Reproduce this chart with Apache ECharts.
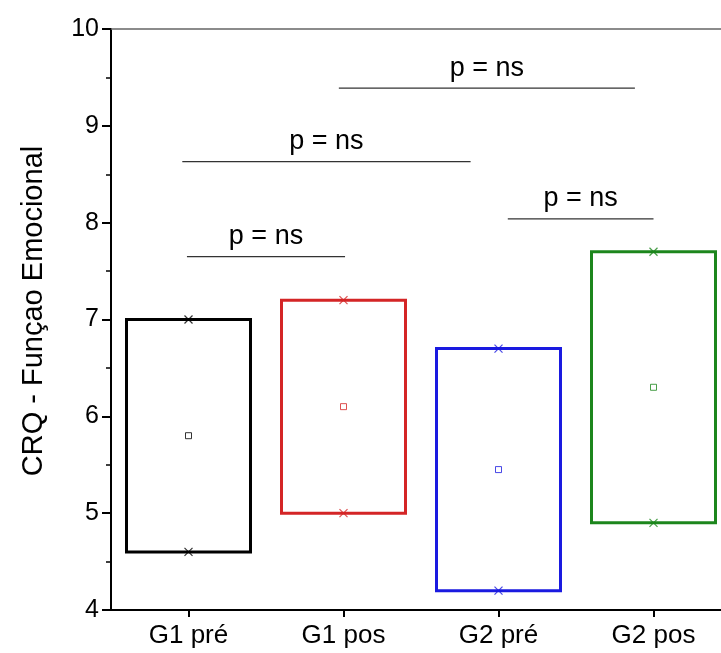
<!DOCTYPE html>
<html>
<head>
<meta charset="utf-8">
<script src="https://cdn.jsdelivr.net/npm/echarts@6/dist/echarts.min.js"></script>
<style>html,body{margin:0;padding:0;background:#fff;overflow:hidden}#c{width:731px;height:653px}</style>
</head>
<body>
<div id="c"></div>
<script>
const categories = ['G1 pré', 'G1 pos', 'G2 pré', 'G2 pos'];
const boxLow = [4.6, 5.0, 4.2, 4.9];
const boxHigh = [7.0, 7.2, 6.7, 7.7];
const means = [5.8, 6.1, 5.45, 6.3];
const maxMarks = [7.0, 7.2, 6.7, 7.7];
const minMarks = [4.6, 5.0, 4.2, 4.9];
// brackets: start group position, end group position, y value
const bracketStart = [-0.01, -0.04, 0.97, 2.06];
const bracketEnd = [1.01, 1.82, 2.88, 3.0];
const bracketY = [7.65, 8.63, 9.39, 8.04];
const bracketText = ['p = ns', 'p = ns', 'p = ns', 'p = ns'];
const yTicks = [4, 5, 6, 7, 8, 9, 10];
const yName = 'CRQ - Funçao Emocional';

const colors = ['#000000', '#d42526', '#1a1ae0', '#1c861c'];
const FONT = 'Liberation Sans, Arial, sans-serif';

const chart = echarts.init(document.getElementById('c'), null, {renderer: 'canvas'});

const boxData = categories.map((c, i) => [i, boxLow[i], boxHigh[i]]);
const crossData = [];
categories.forEach((c, i) => {
  crossData.push({value: [i, maxMarks[i]], itemStyle: {borderColor: colors[i]}});
  crossData.push({value: [i, minMarks[i]], itemStyle: {borderColor: colors[i]}});
});
const meanData = categories.map((c, i) => ({value: [i, means[i]], itemStyle: {borderColor: colors[i]}}));
const bracketData = bracketStart.map((s, i) => [s, bracketEnd[i], bracketY[i]]);

chart.setOption({
  animation: false,
  backgroundColor: '#fff',
  grid: {left: 111, right: 0, top: 29, bottom: 43, containLabel: false},
  xAxis: [{
    type: 'category',
    data: categories,
    position: 'bottom',
    boundaryGap: true,
    axisLine: {show: true, onZero: false, lineStyle: {color: '#000', width: 2}},
    axisTick: {show: true, alignWithLabel: true, length: 7, lineStyle: {color: '#000', width: 2}},
    axisLabel: {color: '#000', fontSize: 26, fontFamily: FONT, margin: 13},
    splitLine: {show: false}
  }, {
    type: 'value',
    position: 'top',
    min: -0.5,
    max: 3.5,
    axisLine: {show: true, onZero: false, lineStyle: {color: '#666', width: 1.5}},
    axisTick: {show: false},
    axisLabel: {show: false},
    splitLine: {show: false}
  }],
  yAxis: {
    type: 'value',
    min: 4,
    max: 10,
    interval: 1,
    axisLine: {show: true, onZero: false, lineStyle: {color: '#000', width: 2}},
    axisTick: {show: true, length: 9, lineStyle: {color: '#000', width: 2}},
    minorTick: {show: true, splitNumber: 2, length: 5, lineStyle: {color: '#000', width: 1.5}},
    axisLabel: {color: '#000', fontSize: 25, fontFamily: FONT, margin: 12,
      formatter: v => yTicks.includes(v) ? String(v) : ''},
    splitLine: {show: false}
  },
  graphic: [{
    type: 'text',
    x: 34, y: 311,
    rotation: Math.PI / 2,
    style: {text: yName, fontSize: 29, fontFamily: FONT, fill: '#000', align: 'center', verticalAlign: 'middle'}
  }],
  series: [{
    type: 'custom',
    xAxisIndex: 0,
    data: boxData,
    renderItem: (params, api) => {
      const i = api.value(0);
      const top = api.coord([i, api.value(2)]);
      const bot = api.coord([i, api.value(1)]);
      const w = api.size([1, 0])[0] * 0.8;
      return {
        type: 'rect',
        shape: {x: top[0] - w / 2, y: top[1], width: w, height: bot[1] - top[1]},
        style: {fill: 'none', stroke: colors[i], lineWidth: 3}
      };
    },
    z: 2
  }, {
    type: 'scatter',
    xAxisIndex: 0,
    data: crossData,
    symbol: 'path://M0,0L10,10M10,0L0,10',
    symbolSize: 8,
    itemStyle: {color: 'none', borderWidth: 1.2},
    z: 3
  }, {
    type: 'scatter',
    xAxisIndex: 0,
    data: meanData,
    symbol: 'rect',
    symbolSize: 6,
    itemStyle: {color: '#fff', borderWidth: 1},
    z: 3
  }, {
    type: 'custom',
    xAxisIndex: 1,
    data: bracketData,
    renderItem: (params, api) => {
      const a = api.coord([api.value(0), api.value(2)]);
      const b = api.coord([api.value(1), api.value(2)]);
      return {
        type: 'group',
        children: [{
          type: 'line',
          shape: {x1: a[0], y1: a[1], x2: b[0], y2: b[1]},
          style: {stroke: '#333', lineWidth: 1.3}
        }, {
          type: 'text',
          x: (a[0] + b[0]) / 2, y: a[1] - 20,
          style: {text: bracketText[params.dataIndex], fontSize: 27, fontFamily: FONT, fill: '#000', align: 'center', verticalAlign: 'middle'}
        }]
      };
    },
    z: 2
  }]
});
</script>
</body>
</html>
